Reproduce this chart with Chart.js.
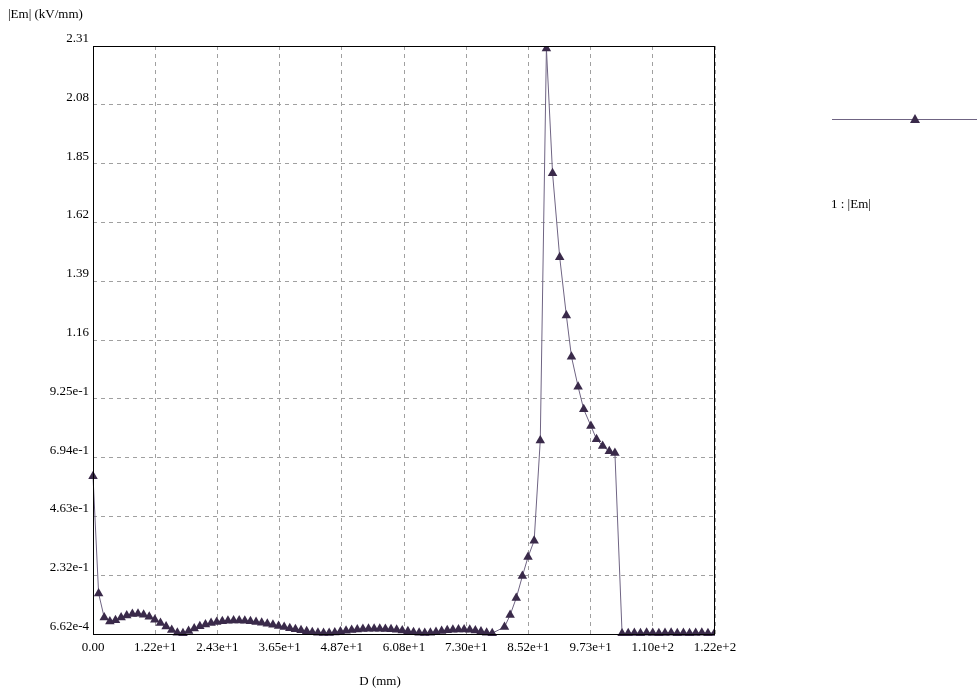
<!DOCTYPE html>
<html>
<head>
<meta charset="utf-8">
<script src="https://cdn.jsdelivr.net/npm/chart.js@4.4.0/dist/chart.umd.min.js"></script>
<style>
  html, body { margin: 0; padding: 0; background: #fff; }
  canvas { display: block; }
</style>
</head>
<body>
<canvas id="myChart" width="977" height="692"></canvas>
<script>
// D (mm) for each sampled point
const distance = [
  0, 1.1, 2.2, 3.3, 4.4, 5.5, 6.6, 7.7, 8.8, 9.9,
  11, 12.1, 13.2, 14.3, 15.4, 16.5, 17.6, 18.7, 19.8, 20.9,
  22, 23.1, 24.2, 25.3, 26.4, 27.5, 28.6, 29.7, 30.8, 31.9,
  33, 34.1, 35.2, 36.3, 37.4, 38.5, 39.6, 40.7, 41.8, 42.9,
  44, 45.1, 46.2, 47.3, 48.4, 49.5, 50.6, 51.7, 52.8, 53.9,
  55, 56.1, 57.2, 58.3, 59.4, 60.5, 61.6, 62.7, 63.8, 64.9,
  66, 67.1, 68.2, 69.3, 70.4, 71.5, 72.6, 73.7, 74.8, 75.9,
  77, 78.1,
  80.5, 81.6, 82.8, 84.0, 85.1, 86.3, 87.5, 88.7, 89.9, 91.3,
  92.6, 93.6, 94.9, 96.0, 97.4, 98.5, 99.7, 101.0, 102.1, 103.5,
  104.7, 105.9, 107.1, 108.3, 109.5, 110.7, 111.9, 113.1, 114.3, 115.5,
  116.7, 117.9, 119.1, 120.3, 121.6
];

// |Em| (kV/mm)
const emValues = [
  0.62, 0.16, 0.065, 0.050, 0.055, 0.065, 0.073, 0.079, 0.080, 0.076,
  0.068, 0.057, 0.044, 0.030, 0.016, 0.006, 0.004, 0.012, 0.022, 0.031,
  0.038, 0.044, 0.048, 0.051, 0.053, 0.054, 0.054, 0.053, 0.051, 0.048,
  0.045, 0.041, 0.037, 0.032, 0.028, 0.023, 0.019, 0.015, 0.011, 0.008,
  0.006, 0.005, 0.005, 0.007, 0.010, 0.013, 0.016, 0.018, 0.020, 0.021,
  0.021, 0.021, 0.020, 0.019, 0.017, 0.014, 0.011, 0.008, 0.006, 0.005,
  0.006, 0.009, 0.012, 0.015, 0.017, 0.018, 0.018, 0.017, 0.014, 0.010,
  0.006, 0.004,
  0.028, 0.075, 0.142, 0.228, 0.303, 0.367, 0.761, 2.30, 1.81, 1.48,
  1.252, 1.090, 0.972, 0.883, 0.818, 0.766, 0.739, 0.718, 0.712, 0.003,
  0.004, 0.005, 0.004, 0.006, 0.005, 0.004, 0.005, 0.006, 0.004, 0.005,
  0.004, 0.005, 0.006, 0.004, 0.005
];

const xTickValues = [0, 12.168, 24.336, 36.504, 48.672, 60.84, 73.008, 85.176, 97.344, 109.512, 121.68];
const xTickLabels = ['0.00', '1.22e+1', '2.43e+1', '3.65e+1', '4.87e+1', '6.08e+1', '7.30e+1', '8.52e+1', '9.73e+1', '1.10e+2', '1.22e+2'];
const yTickValues = [0.000662, 0.231595, 0.462528, 0.693461, 0.924394, 1.155327, 1.38626, 1.617193, 1.848126, 2.079059, 2.31];
const yTickLabels = ['6.62e-4', '2.32e-1', '4.63e-1', '6.94e-1', '9.25e-1', '1.16', '1.39', '1.62', '1.85', '2.08', '2.31'];

const seriesName = '1 : |Em|';
const yTitle = '|Em| (kV/mm)';
const xTitle = 'D (mm)';

const lineColor = '#6f6483';
const markerColor = '#3a2a4a';
const gridColor = '#a0a0a0';
const fontFamily = '"Liberation Serif", "Times New Roman", serif';

const points = distance.map((d, i) => ({ x: d, y: emValues[i] }));

const ctx = document.getElementById('myChart').getContext('2d');

const decorations = {
    id: 'decorations',
    afterDatasetsDraw(chart) {
        const c = chart.ctx;
        const a = chart.chartArea;
        c.save();
        // plot frame
        c.strokeStyle = '#000';
        c.lineWidth = 1;
        c.setLineDash([]);
        c.strokeRect(Math.round(a.left) + 0.5, Math.round(a.top) + 0.5,
            Math.round(a.right - a.left) - 1, Math.round(a.bottom - a.top));

        // axis titles
        c.fillStyle = '#000';
        c.font = '13px ' + fontFamily;
        c.textBaseline = 'middle';
        c.textAlign = 'left';
        c.fillText(yTitle, 8, 15);
        c.textAlign = 'center';
        c.fillText(xTitle, 380, 682);

        // legend
        c.strokeStyle = lineColor;
        c.beginPath();
        c.moveTo(832, 119.5);
        c.lineTo(977, 119.5);
        c.stroke();
        c.fillStyle = markerColor;
        c.beginPath();
        c.moveTo(915, 114);
        c.lineTo(920, 123);
        c.lineTo(910, 123);
        c.closePath();
        c.fill();
        c.fillStyle = '#000';
        c.textAlign = 'left';
        c.fillText(seriesName, 831, 205);
        c.restore();
    }
};

const config = {
    type: 'line',
    data: {
        datasets: [
            {
                label: seriesName,
                data: points,
                borderColor: lineColor,
                borderWidth: 1,
                pointStyle: 'triangle',
                pointRadius: 5.5,
                pointBackgroundColor: markerColor,
                pointBorderColor: markerColor,
                pointBorderWidth: 0,
                tension: 0,
                clip: { left: 6, top: 0, right: 0, bottom: 2 },
            }
        ]
    },
    options: {
        responsive: false,
        animation: false,
        events: [],
        layout: {
            padding: { left: 0, top: 46, right: 262, bottom: 0 },
        },
        plugins: {
            legend: { display: false },
            tooltip: { enabled: false },
        },
        scales: {
            x: {
                type: 'linear',
                min: 0,
                max: 121.68,
                afterBuildTicks: (scale) => {
                    scale.ticks = xTickValues.map(v => ({ value: v }));
                },
                afterFit: (scale) => { scale.height = 58; },
                ticks: {
                    autoSkip: false,
                    maxRotation: 0,
                    padding: 6,
                    color: '#000',
                    font: { family: fontFamily, size: 13 },
                    callback: (v, i) => xTickLabels[i],
                },
                grid: {
                    color: gridColor,
                    drawTicks: false,
                },
                border: { display: false, dash: [4, 4] },
            },
            y: {
                type: 'linear',
                min: 0.000662,
                max: 2.31,
                afterBuildTicks: (scale) => {
                    scale.ticks = yTickValues.map(v => ({ value: v }));
                },
                afterFit: (scale) => { scale.width = 93; },
                ticks: {
                    autoSkip: false,
                    padding: 4,
                    labelOffset: -7.5,
                    color: '#000',
                    font: { family: fontFamily, size: 13 },
                    callback: (v, i) => yTickLabels[i],
                },
                grid: {
                    color: gridColor,
                    drawTicks: false,
                },
                border: { display: false, dash: [4, 4] },
            }
        }
    },
    plugins: [decorations]
};

const emChart = new Chart(ctx, config);
</script>
</body>
</html>
